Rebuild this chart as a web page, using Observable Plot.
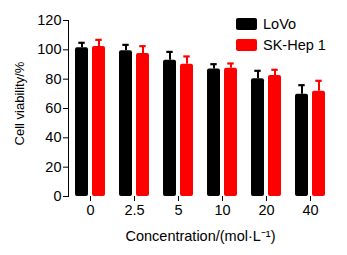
<!DOCTYPE html>
<html>
<head>
<meta charset="utf-8">
<script src="https://cdn.jsdelivr.net/npm/d3@7"></script>
<script src="https://cdn.jsdelivr.net/npm/@observablehq/plot@0.6"></script>
<style>
  html, body { margin: 0; padding: 0; background: #fff; }
  #wrap { position: relative; width: 347px; height: 255px; font-family: "Liberation Sans", Arial, sans-serif; }
  #legend { position: absolute; left: 236px; top: 13px; font-size: 14.5px; color: #000; }
  .item { display: flex; align-items: center; height: 21.5px; }
  .sw { width: 21px; height: 12px; border-radius: 2px; margin-right: 6px; }
</style>
</head>
<body>
<div id="wrap"><div id="legend"></div></div>
<script>
const concentrations = ["0", "2.5", "5", "10", "20", "40"];
const seriesNames = ["LoVo", "SK-Hep 1"];
const seriesColors = ["#000000", "#ff0000"];
const lovoValues = [101.4, 99.3, 92.9, 87.0, 80.2, 69.8];
const lovoErrors = [3.4, 4.1, 5.7, 3.2, 5.5, 6.1];
const hepValues = [102.3, 97.5, 90.2, 87.5, 82.5, 71.8];
const hepErrors = [4.5, 5.0, 5.3, 3.2, 3.9, 7.1];
const yTicks = [0, 20, 40, 60, 80, 100, 120];

const rows = [];
concentrations.forEach((c, i) => {
  rows.push({conc: c, series: seriesNames[0], value: lovoValues[i], err: lovoErrors[i]});
  rows.push({conc: c, series: seriesNames[1], value: hepValues[i], err: hepErrors[i]});
});

const chart = Plot.plot({
  width: 347,
  height: 255,
  marginLeft: 67,
  marginRight: 14,
  marginTop: 20,
  marginBottom: 59,
  style: {fontFamily: "'Liberation Sans', Arial, sans-serif", fontSize: "14.5px", color: "#000", background: "#fff"},
  fx: {domain: concentrations, padding: 0, tickSize: 5, tickPadding: 3, line: true,
       label: "Concentration/(mol·L⁻¹)", labelAnchor: "center", labelOffset: 44, labelArrow: "none"},
  x: {domain: seriesNames, paddingInner: 0.229, paddingOuter: 0.37, axis: null},
  y: {domain: [0, 120], ticks: yTicks, tickSize: 5, tickPadding: 2, line: true,
      label: "Cell viability/%", labelAnchor: "center", labelOffset: 54, labelArrow: "none"},
  color: {domain: seriesNames, range: seriesColors},
  marks: [
    Plot.ruleX(rows, {fx: "conc", x: "series", y1: "value", y2: d => d.value + d.err, stroke: "series", strokeWidth: 2}),
    Plot.tickY(rows, {fx: "conc", x: "series", y: d => d.value + d.err, stroke: "series", strokeWidth: 2.2, insetLeft: 3.3, insetRight: 3.3}),
    Plot.barY(rows, {fx: "conc", x: "series", y: "value", fill: "series", rx: 2})
  ]
});
document.getElementById("wrap").prepend(chart);

// y-axis title: slightly smaller and a little higher, as in the reference
d3.select(chart).selectAll('g[aria-label="y-axis label"] text')
  .style("font-size", "13px")
  .attr("dx", "5");

const legend = d3.select("#legend");
seriesNames.forEach((s, i) => {
  const item = legend.append("div").attr("class", "item");
  item.append("div").attr("class", "sw").style("background", seriesColors[i]);
  item.append("span").text(s);
});
</script>
</body>
</html>
